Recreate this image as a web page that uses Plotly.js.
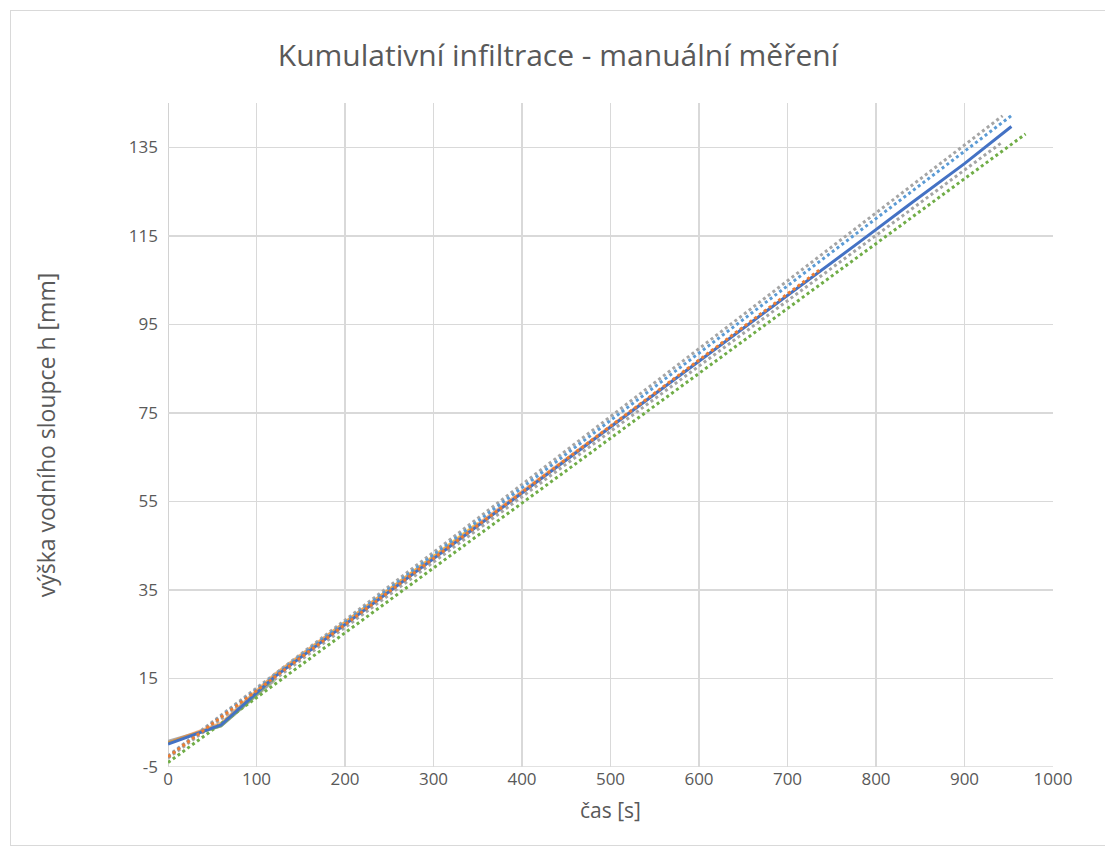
<!DOCTYPE html>
<html>
<head>
<meta charset="utf-8">
<script src="https://cdn.plot.ly/plotly-3.0.1.min.js"></script>
<style>
  html, body { margin: 0; padding: 0; background: #ffffff; }
  #frame { position: absolute; left: 10px; top: 10px; width: 1100px; height: 836px; border: 1px solid #d9d9d9; box-sizing: border-box; }
  #chart { position: absolute; left: 0; top: 0; width: 1105px; height: 850px; }
</style>
</head>
<body>
<div id="frame"></div>
<div id="chart"></div>
<script>
// ---- measured data (solid lines) ----
const tBlue   = [0, 60, 120, 180, 240, 300, 360, 420, 480, 540, 600, 660, 720, 780, 840, 900, 953];
const hBlue   = [0.2, 4.5, 15.3, 24.2, 33.1, 42.0, 51.0, 59.9, 68.8, 77.7, 86.7, 95.6, 104.5, 113.4, 122.4, 131.3, 139.7];
const tOrange = [0, 60, 120, 180, 240, 300, 360, 420, 480, 540, 600, 660, 720, 737];
const hOrange = [0.6, 5.0, 16.0, 25.0, 33.8, 42.6, 51.5, 60.3, 69.1, 78.0, 86.8, 95.6, 104.5, 107.0];
const tYellow = [0, 60, 120, 180, 240, 300, 350];
const hYellow = [0.4, 4.8, 15.8, 24.8, 33.7, 42.6, 50.2];
const tGray   = [0, 60, 120];
const hGray   = [0.8, 4.3, 14.6];
const tGreen  = [0, 60, 120];
const hGreen  = [0.5, 4.2, 14.8];

// ---- linear trendlines (dotted), start/end ----
const trLightBlueT = [0, 954];  const trLightBlueH = [-2.7, 142.3];
const trGrayUpT    = [0, 943];  const trGrayUpH    = [-2.5, 142.1];
const trOrangeT    = [0, 737];  const trOrangeH    = [-2.7, 107.4];
const trGrayLowT   = [0, 943];  const trGrayLowH   = [-3.0, 136.2];
const trGreenT     = [0, 969];  const trGreenH     = [-4.0, 138.0];

// ---- axis ticks ----
const yTicks = [-5, 15, 35, 55, 75, 95, 115, 135];
const xTicks = [0, 100, 200, 300, 400, 500, 600, 700, 800, 900, 1000];

const solid = (x, y, color, w, op) => ({
  x: x, y: y, type: 'scatter', mode: 'lines', opacity: op,
  line: { color: color, width: w }, hoverinfo: 'skip', showlegend: false
});
const dotted = (x, y, color) => ({
  x: x, y: y, type: 'scatter', mode: 'lines',
  line: { color: color, width: 3, dash: 'dot' }, hoverinfo: 'skip', showlegend: false
});

const data = [
  solid(tGray, hGray, '#A5A5A5', 3, 0.9),
  solid(tGreen, hGreen, '#70AD47', 2, 0.7),
  solid(tYellow, hYellow, '#FFC000', 2, 0.6),
  solid(tOrange, hOrange, '#ED7D31', 2, 0.55),
  dotted(trGreenT, trGreenH, '#70AD47'),
  dotted(trGrayLowT, trGrayLowH, '#A5A5A5'),
  dotted(trGrayUpT, trGrayUpH, '#A5A5A5'),
  dotted(trLightBlueT, trLightBlueH, '#5B9BD5'),
  solid(tBlue, hBlue, '#4472C4', 3, 1),
  dotted(trOrangeT, trOrangeH, '#ED7D31')
];

const fontFam = 'Open Sans, Liberation Sans, sans-serif';
const layout = {
  width: 1105, height: 850,
  paper_bgcolor: 'rgba(0,0,0,0)', plot_bgcolor: 'rgba(0,0,0,0)',
  margin: { l: 168, r: 52, t: 103, b: 83 },
  font: { family: fontFam, color: '#595959', size: 17 },
  title: {
    text: 'Kumulativní infiltrace - manuální měření',
    font: { family: fontFam, size: 30, color: '#595959' },
    xref: 'container', x: 0.505, xanchor: 'center',
    yref: 'container', y: 1 - 55 / 850, yanchor: 'middle'
  },
  xaxis: {
    range: [0, 1000], tickvals: xTicks, ticktext: xTicks.map(String),
    showgrid: true, gridcolor: '#d9d9d9', gridwidth: 1.4,
    zeroline: false, showline: false, ticks: '',
    tickfont: { size: 17, color: '#595959' },
    title: { text: 'čas [s]', font: { size: 21, color: '#595959' }, standoff: 14 }
  },
  yaxis: {
    range: [-5, 145], tickvals: yTicks, ticktext: yTicks.map(String),
    showgrid: true, gridcolor: '#d9d9d9', gridwidth: 1.4,
    zeroline: false, showline: false, ticks: '',
    ticklabelstandoff: 9,
    tickfont: { size: 17, color: '#595959' },
    title: { text: 'výška vodního sloupce h [mm]', font: { size: 23, color: '#595959' }, standoff: 66 }
  },
  shapes: [
    { type: 'line', xref: 'x', yref: 'y', x0: 0, x1: 0, y0: -5, y1: 145, line: { color: '#bfbfbf', width: 1.4 }, layer: 'below' },
    { type: 'line', xref: 'x', yref: 'y', x0: 0, x1: 1000, y0: -5, y1: -5, line: { color: '#d9d9d9', width: 1.4 }, layer: 'below' }
  ]
};

Plotly.newPlot('chart', data, layout, { staticPlot: true, displayModeBar: false });
</script>
</body>
</html>
